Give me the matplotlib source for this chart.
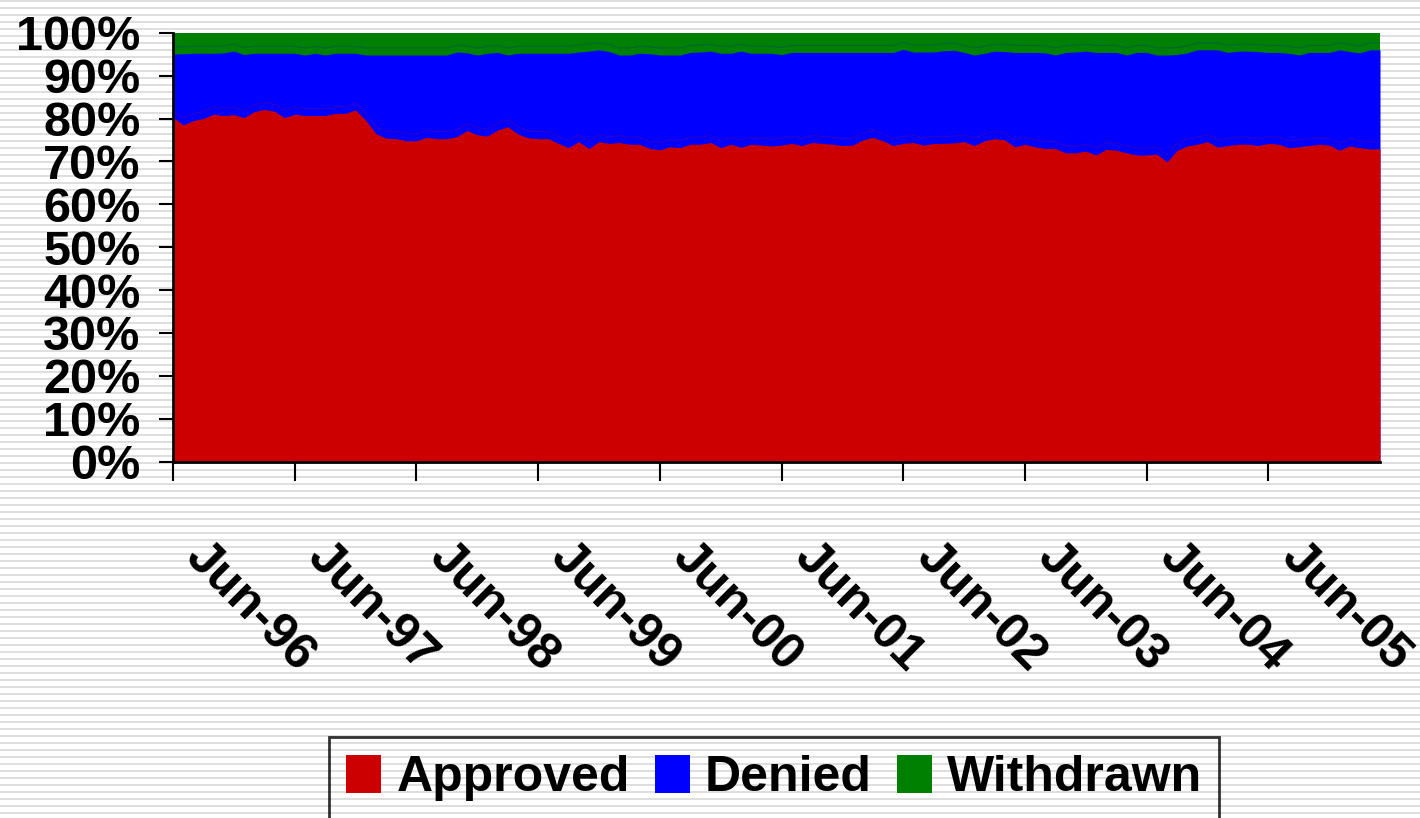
import numpy as np
import pandas as pd
import matplotlib
matplotlib.use("Agg")
import matplotlib.pyplot as plt
from matplotlib import transforms

plt.rcParams["font.family"] = ["Liberation Sans", "DejaVu Sans"]
plt.rcParams["font.weight"] = "bold"

# monthly shares (%), Jun-96 .. May-06
months = pd.date_range("1996-06-01", periods=120, freq="MS").strftime("%b-%y")

approved = [80.3, 78.5, 79.5, 80.0, 81.0, 80.7, 80.9, 80.2, 81.6, 82.1,
            81.7, 80.2, 81.0, 80.7, 80.7, 80.7, 81.2, 81.2, 82.0, 79.6,
            76.5, 75.4, 75.3, 74.8, 74.8, 75.6, 75.3, 75.3, 75.8, 77.2,
            76.2, 75.9, 77.3, 78.1, 76.4, 75.5, 75.3, 75.3, 74.2, 73.2,
            74.6, 73.0, 74.6, 74.2, 74.4, 74.0, 74.0, 73.0, 72.7, 73.4,
            73.2, 74.0, 74.0, 74.4, 73.2, 74.0, 73.3, 74.0, 73.8, 73.6,
            73.8, 74.2, 73.7, 74.4, 74.2, 74.0, 73.7, 73.8, 75.0, 75.6,
            74.8, 73.7, 74.2, 74.4, 73.8, 74.2, 74.2, 74.3, 74.6, 73.7,
            74.8, 75.3, 75.0, 73.4, 74.0, 73.4, 73.0, 73.0, 72.0, 72.0,
            72.4, 71.5, 72.8, 72.6, 72.0, 71.5, 71.5, 71.7, 69.9, 72.6,
            73.6, 74.0, 74.6, 73.3, 73.7, 74.0, 74.0, 73.7, 74.2, 74.0,
            73.2, 73.4, 73.7, 74.0, 73.8, 72.6, 73.6, 73.2, 72.9, 72.9]

denied = [14.7, 16.6, 15.7, 15.2, 14.2, 14.6, 14.8, 14.7, 13.6, 13.1,
          13.5, 15.0, 14.2, 14.1, 14.5, 14.1, 14.0, 14.0, 13.2, 15.2,
          18.3, 19.4, 19.5, 20.0, 20.0, 19.2, 19.5, 19.5, 19.7, 18.1,
          18.6, 19.3, 18.1, 16.7, 18.8, 19.7, 19.9, 19.9, 21.0, 22.0,
          20.9, 22.7, 21.4, 21.4, 20.4, 20.8, 21.2, 22.1, 22.1, 21.4,
          21.6, 21.4, 21.5, 21.3, 22.0, 21.2, 22.4, 21.2, 21.4, 21.6,
          21.1, 21.2, 21.7, 21.0, 21.2, 21.4, 21.7, 21.6, 20.4, 19.8,
          20.6, 21.7, 21.9, 21.1, 21.7, 21.3, 21.6, 21.6, 20.8, 21.1,
          20.4, 20.4, 20.6, 22.0, 21.4, 22.0, 22.3, 21.8, 23.4, 23.5,
          23.3, 23.9, 22.6, 22.8, 22.8, 23.9, 23.9, 23.1, 24.9, 22.3,
          21.7, 22.0, 21.4, 22.7, 21.7, 21.7, 21.7, 21.9, 21.2, 21.4,
          22.0, 21.4, 21.7, 21.4, 21.6, 23.4, 22.0, 22.1, 23.1, 23.1]

withdrawn = [5.0, 4.9, 4.8, 4.8, 4.8, 4.7, 4.3, 5.1, 4.8, 4.8,
             4.8, 4.8, 4.8, 5.2, 4.8, 5.2, 4.8, 4.8, 4.8, 5.2,
             5.2, 5.2, 5.2, 5.2, 5.2, 5.2, 5.2, 5.2, 4.5, 4.7,
             5.2, 4.8, 4.6, 5.2, 4.8, 4.8, 4.8, 4.8, 4.8, 4.8,
             4.5, 4.3, 4.0, 4.4, 5.2, 5.2, 4.8, 4.9, 5.2, 5.2,
             5.2, 4.6, 4.5, 4.3, 4.8, 4.8, 4.3, 4.8, 4.8, 4.8,
             5.1, 4.6, 4.6, 4.6, 4.6, 4.6, 4.6, 4.6, 4.6, 4.6,
             4.6, 4.6, 3.9, 4.5, 4.5, 4.5, 4.2, 4.1, 4.6, 5.2,
             4.8, 4.3, 4.4, 4.6, 4.6, 4.6, 4.7, 5.2, 4.6, 4.5,
             4.3, 4.6, 4.6, 4.6, 5.2, 4.6, 4.6, 5.2, 5.2, 5.1,
             4.7, 4.0, 4.0, 4.0, 4.6, 4.3, 4.3, 4.4, 4.6, 4.6,
             4.8, 5.2, 4.6, 4.6, 4.6, 4.0, 4.4, 4.7, 4.0, 4.0]

names = ["Approved", "Denied", "Withdrawn"]
colors = ["#cc0000", "#0000ff", "#008000"]

data = np.array([approved, denied, withdrawn])
shares = data / data.sum(axis=0) * 100
cum = np.cumsum(shares, axis=0)
x = np.arange(len(months))

fig = plt.figure(figsize=(14.2, 8.18), dpi=100)

# striped background
bg = fig.add_axes([0, 0, 1, 1], zorder=-5)
rows = np.arange(818)
stripe = np.where(rows % 7 < 2, 0.87, 1.0).reshape(-1, 1)
bg.imshow(stripe, cmap="gray", vmin=0, vmax=1, aspect="auto",
          interpolation="nearest", extent=[0, 1, 0, 1])
bg.axis("off")

ax = fig.add_axes([173 / 1420, 356.3 / 818, 1207 / 1420, 429 / 818])
ax.set_facecolor("none")

# draw each cumulative area from zero so there are no seams
handles = []
for k in range(2, -1, -1):
    h = ax.fill_between(x, 0, cum[k], color=colors[k], lw=0, zorder=1 + (2 - k))
    handles.insert(0, h)

# faint offset edge lines (old excel shadow look)
shift = ax.transData + transforms.ScaledTranslation(0, 7 / 100, fig.dpi_scale_trans)
for k in range(2):
    ax.plot(x, cum[k], color=colors[k], alpha=0.22, lw=0.8, transform=shift, zorder=5)

ax.set_xlim(0, len(x) - 1)
ax.set_ylim(0, 100)
ax.set_yticks(np.arange(0, 101, 10))
ax.set_yticklabels([f"{v}%" for v in range(0, 101, 10)])
ax.set_xticks(x[::12])
ax.set_xticklabels(months[::12])

for s in ["top", "right"]:
    ax.spines[s].set_visible(False)
for s in ["left", "bottom"]:
    ax.spines[s].set_linewidth(2)
    ax.spines[s].set_zorder(6)

ax.tick_params(axis="y", length=10, width=1.5, direction="out", pad=13.5, labelsize=35)
ax.tick_params(axis="x", length=13.5, width=1.5, direction="out", pad=38, labelsize=36)

lab_shift = transforms.ScaledTranslation(36 / 100, 0, fig.dpi_scale_trans)
for lbl in ax.get_xticklabels():
    lbl.set_rotation(-45)
    lbl.set_ha("left")
    lbl.set_va("top")
    lbl.set_rotation_mode("anchor")
    lbl.set_transform(lbl.get_transform() + lab_shift)

leg = fig.legend(handles, names, loc="upper center",
                 bbox_to_anchor=(774 / 1420, 1 - 737 / 818), ncol=3,
                 frameon=True, fancybox=False, edgecolor="black", facecolor="none",
                 fontsize=36, handlelength=0.7, handleheight=0.8,
                 handletextpad=0.3, columnspacing=0.5, borderpad=0.35,
                 borderaxespad=0)
leg.get_frame().set_linewidth(2)

fig.savefig("out.png", dpi=100)
